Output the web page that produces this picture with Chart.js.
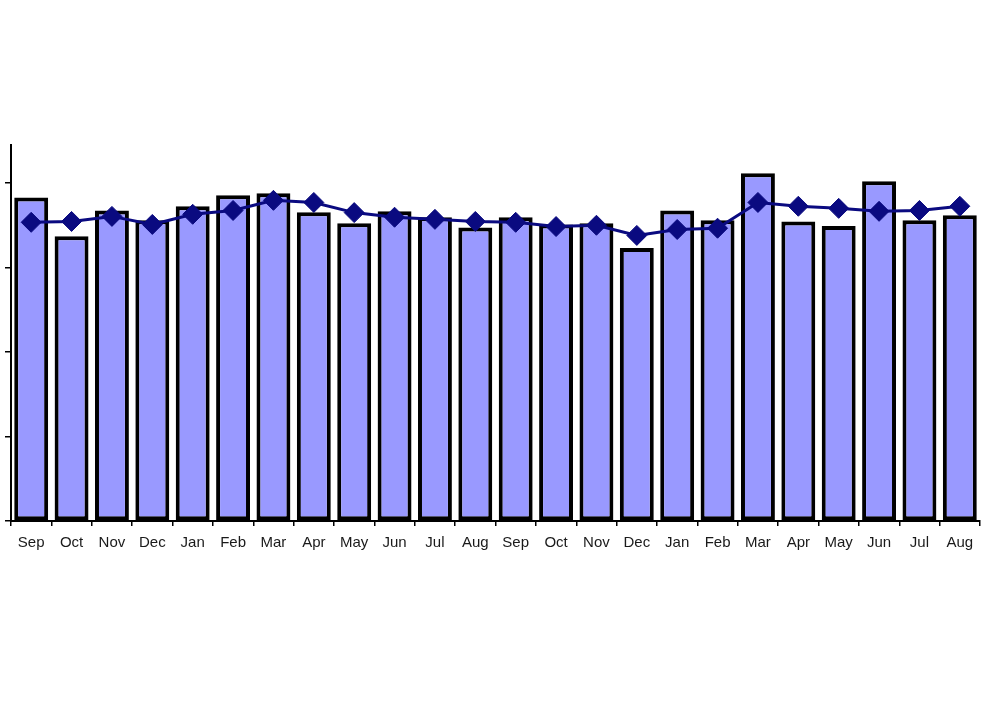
<!DOCTYPE html>
<html>
<head>
<meta charset="utf-8">
<script src="https://cdn.jsdelivr.net/npm/chart.js@4/dist/chart.umd.min.js"></script>
<style>
html,body{margin:0;padding:0;background:#fff;}
#wrap{width:1002px;height:703px;}
</style>
</head>
<body>
<div id="wrap"><canvas id="c" width="1002" height="703"></canvas></div>
<script>
const categories = ["Sep","Oct","Nov","Dec","Jan","Feb","Mar","Apr","May","Jun","Jul","Aug",
                    "Sep","Oct","Nov","Dec","Jan","Feb","Mar","Apr","May","Jun","Jul","Aug"];
const barValues = [76.6,67.4,73.5,71.2,74.5,77.1,77.6,73.1,70.5,73.3,71.9,69.5,
                   71.9,70.2,70.5,64.6,73.5,71.2,82.3,70.9,69.8,80.4,71.2,72.4];
const lineValues = [70.7,70.9,72.1,70.2,72.6,73.5,75.9,75.4,73.0,71.9,71.4,70.9,
                    70.7,69.7,70.0,67.6,69.0,69.3,75.4,74.5,74.0,73.3,73.5,74.5];
const yTicks = [0,20,40,60,80];
const yMax = 89;

new Chart(document.getElementById('c'), {
  data: {
    labels: categories,
    datasets: [
      {
        type: 'line',
        data: lineValues,
        order: 0,
        borderColor: '#0a0a80',
        backgroundColor: '#0a0a80',
        borderWidth: 3,
        pointStyle: 'rectRot',
        pointRadius: 10,
        pointBorderWidth: 1,
        tension: 0
      },
      {
        type: 'bar',
        data: barValues,
        order: 1,
        backgroundColor: '#9999ff',
        borderColor: '#000000',
        borderWidth: 4,
        borderSkipped: false,
        categoryPercentage: 1,
        barPercentage: 0.84
      }
    ]
  },
  options: {
    responsive: false,
    animation: false,
    layout: { padding: { top: 145, right: 22, bottom: 142, left: 0 } },
    plugins: { legend: { display: false }, tooltip: { enabled: false } },
    scales: {
      x: {
        offset: true,
        grid: { display: true, drawOnChartArea: false, offset: true, tickLength: 5, color: '#000', lineWidth: 1.5 },
        border: { display: true, color: '#000', width: 2 },
        ticks: { color: '#1a1a1a', font: { family: 'Liberation Sans', size: 15 }, padding: 8, maxRotation: 0, autoSkip: false },
        afterFit: s => { s.height = 40; }
      },
      y: {
        min: 0,
        max: yMax,
        afterBuildTicks: s => { s.ticks = yTicks.map(v => ({ value: v })); },
        grid: { display: true, drawOnChartArea: false, tickLength: 6, color: '#000', lineWidth: 1.5 },
        border: { display: true, color: '#000', width: 2 },
        ticks: { display: false },
        afterFit: s => { s.width = 10; }
      }
    }
  }
});
</script>
</body>
</html>
